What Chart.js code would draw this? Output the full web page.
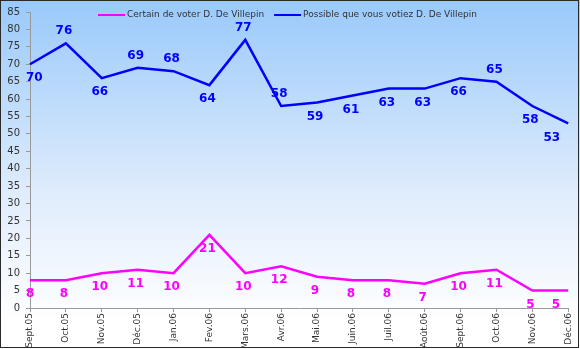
<!DOCTYPE html>
<html>
<head>
<meta charset="utf-8">
<script src="https://cdn.jsdelivr.net/npm/chart.js@4.4.0/dist/chart.umd.min.js"></script>
<style>
  html, body { margin: 0; padding: 0; background: #fff; }
  #wrap { width: 580px; height: 349px; }
</style>
</head>
<body>
<div id="wrap"><canvas id="chartLine" width="580" height="349"></canvas></div>
<script>
// months
const labels = ["Sept.05", "Oct.05", "Nov.05", "Déc.05", "Jan.06", "Fev.06", "Mars.06", "Avr.06",
  "Mai.06", "Juin.06", "Juil.06", "Août.06", "Sept.06", "Oct.06", "Nov.06", "Déc.06"];

const certainLabel = "Certain de voter D. De Villepin";
const certainValues = [8, 8, 10, 11, 10, 21, 10, 12, 9, 8, 8, 7, 10, 11, 5, 5];

const possibleLabel = "Possible que vous votiez D. De Villepin";
const possibleValues = [70, 76, 66, 69, 68, 64, 77, 58, 59, 61, 63, 63, 66, 65, 58, 53];

const yMin = 0, yMax = 85, yStep = 5;

// where each value label sits relative to its point
const certainLabelPos = Array(16).fill("below");
const possibleLabelPos = ["below", "above", "below", "above", "above", "below", "above", "above",
  "below", "below", "below", "below", "below", "above", "below", "below"];

const FONT = "'DejaVu Sans', Verdana, sans-serif";

/* ------------------------------ background -------------------------------- */
const bgPlugin = {
  id: "bg",
  beforeDraw(chart) {
    const ctx = chart.ctx;
    const g = ctx.createLinearGradient(0, 0, 0, chart.height);
    g.addColorStop(0, "#99c9fb");
    g.addColorStop(0.55, "#dfecfc");
    g.addColorStop(0.92, "#ffffff");
    ctx.save();
    ctx.fillStyle = g;
    ctx.fillRect(0, 0, chart.width, chart.height);
    ctx.restore();
  },
  afterDraw(chart) {
    const ctx = chart.ctx;
    ctx.save();
    ctx.strokeStyle = "#2a2a2a";
    ctx.lineWidth = 1;
    ctx.strokeRect(0.5, 0.5, chart.width - 2, chart.height - 2);
    ctx.restore();
  },
};

/* ------------------------------ value labels ------------------------------ */
const valueLabels = {
  id: "valueLabels",
  afterDatasetsDraw(chart) {
    const ctx = chart.ctx;
    const area = chart.chartArea;
    ctx.save();
    ctx.font = "bold 12px " + FONT;
    ctx.textAlign = "center";
    ctx.textBaseline = "middle";
    chart.data.datasets.forEach((ds, i) => {
      const meta = chart.getDatasetMeta(i);
      const pos = ds.labelPos;
      ctx.fillStyle = ds.borderColor;
      meta.data.forEach((pt, j) => {
        const txt = String(ds.data[j]);
        const w = ctx.measureText(txt).width;
        let x = pt.x - 2;
        const y = pos[j] === "above" ? pt.y - 12 : pt.y + 14;
        if (x - w / 2 < area.left - 4) x = area.left - 4 + w / 2;
        if (x + w / 2 > area.right - 8) x = area.right - 8 - w / 2;
        ctx.fillText(txt, x, y);
      });
    });
    ctx.restore();
  },
};

/* --------------------------------- legend --------------------------------- */
const lineLegend = {
  id: "lineLegend",
  afterDraw(chart) {
    const ctx = chart.ctx;
    ctx.save();
    ctx.font = "9px " + FONT;
    ctx.textBaseline = "middle";
    let x = 98;
    const y = 15;
    chart.data.datasets.forEach((ds) => {
      ctx.strokeStyle = ds.borderColor;
      ctx.lineWidth = 2;
      ctx.beginPath();
      ctx.moveTo(x, y);
      ctx.lineTo(x + 27, y);
      ctx.stroke();
      x += 29;
      ctx.fillStyle = "#333";
      ctx.fillText(ds.label, x, y);
      x += ctx.measureText(ds.label).width + 10;
    });
    ctx.restore();
  },
};

const data = {
  labels: labels,
  datasets: [
    {
      label: certainLabel,
      data: certainValues,
      borderColor: "#ff00ff",
      backgroundColor: "#ff00ff",
      borderWidth: 2.5,
      pointRadius: 0,
      tension: 0,
      labelPos: certainLabelPos,
    },
    {
      label: possibleLabel,
      data: possibleValues,
      borderColor: "#0000ff",
      backgroundColor: "#0000ff",
      borderWidth: 2.5,
      pointRadius: 0,
      tension: 0,
      labelPos: possibleLabelPos,
    },
  ],
};

const configLineChart = {
  type: "line",
  data,
  options: {
    responsive: false,
    animation: false,
    layout: { padding: { top: 9, right: 10, bottom: 1, left: 0 } },
    plugins: { legend: { display: false }, tooltip: { enabled: false } },
    scales: {
      x: {
        offset: false,
        afterFit: (s) => { s.height = 40; },
        grid: { drawOnChartArea: false, color: "#999", tickLength: 4 },
        border: { color: "#999" },
        ticks: {
          autoSkip: false,
          minRotation: 90,
          maxRotation: 90,
          padding: 1,
          color: "#333",
          font: { family: FONT, size: 9 },
        },
      },
      y: {
        min: yMin,
        max: yMax,
        afterFit: (s) => { s.width = 30; },
        grid: { drawOnChartArea: false, color: "#999", tickLength: 4 },
        border: { color: "#999" },
        ticks: {
          stepSize: yStep,
          padding: 6,
          color: "#333",
          font: { family: FONT, size: 10 },
        },
      },
    },
  },
  plugins: [bgPlugin, valueLabels, lineLegend],
};

var chartLine = new Chart(document.getElementById("chartLine"), configLineChart);
</script>
</body>
</html>
